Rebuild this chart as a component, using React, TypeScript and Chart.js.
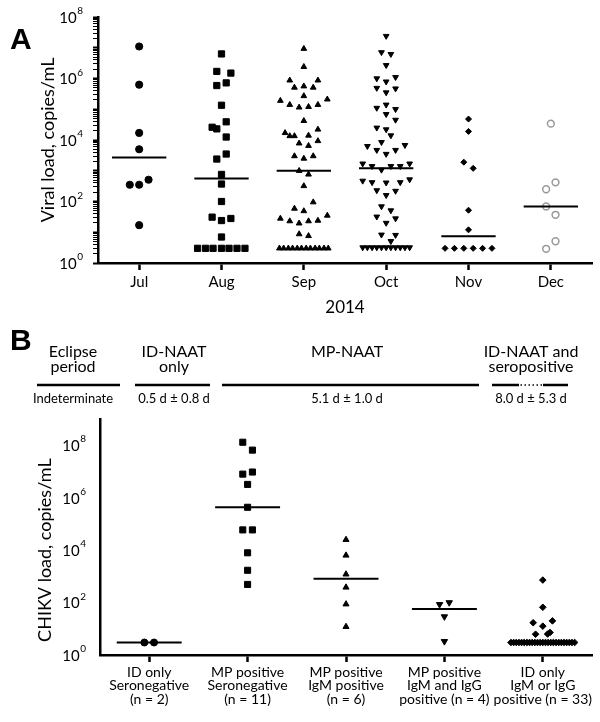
import React, { useEffect, useRef } from 'react';
import Chart from 'chart.js/auto';

// ---------------- Panel A: viral load by month (2014) ----------------
const monthLabels = ['Jul', 'Aug', 'Sep', 'Oct', 'Nov', 'Dec'];

const julValues = [1.1e7, 6.3e5, 1.7e4, 5.0e3, 350, 350, 510, 17];
const julSlots = [0, 0, 0, 0, -2, 0, 2, 0];

const augValues = [6.3e6, 1.7e6, 1.5e6, 5.9e5, 7.2e5, 1.35e5, 3.9e4, 2.6e4, 2.3e4, 1.25e4, 3.5e3, 2.4e3, 760, 370, 100, 31, 24, 28, 7,
  3, 3, 3, 3, 3, 3, 3];
const augSlots = [0, -1, 2, -1, 1, 0, 1, -2, -1, 1, 1, -1, 0, 0, 0, -2, 0, 2, 0,
  -5.1, -3.4, -1.8, 0, 1.6, 3.3, 5];

const sepValues = [9.3e6, 2.4e6, 8.7e5, 8.7e5, 5.1e5, 5.6e5, 5.1e5, 2.7e5, 1.9e5, 1.4e5, 1.15e5, 1.2e5, 1.4e5, 2.1e5,
  4.2e4, 1.7e4, 1.35e4, 1.35e4, 1.4e4, 2.2e4, 7.8e3, 6.5e3, 9.3e3, 3.0e3, 2.5e3, 3.0e3, 1.0e3, 760, 320,
  95, 59, 49, 28, 23, 19.5, 23, 24, 35, 8.7, 7.6,
  3, 3, 3, 3, 3, 3, 3, 3, 3, 3, 3, 3];
const sepSlots = [0, 0, -3, 3, -2, 0, 2, 0, -5, -3, -1, 1, 3, 5,
  0, -4, -3, -2, 1, 3, -1, 1, 3, -2, 0, 2, -1, 1, 0,
  2, -2, 0, -5, -3, -1, 1, 3, 5, -1, 1,
  -5.2, -4.3, -3.3, -2.4, -1.4, -0.5, 0.5, 1.4, 2.4, 3.3, 4.3, 5.2];

const octValues = [2.4e7, 7.1e6, 6.2e6, 2.7e6, 1.0e6, 7.9e5, 1.1e6, 4.9e5, 3.5e5, 4.7e5, 1.1e5, 1.4e5, 1.0e5, 6.9e4, 4.5e4,
  2.5e4, 2.2e4, 1.4e4, 6.3e3, 4.7e3, 8.5e3, 3.5e3, 4.7e3, 6.8e3,
  1.7e3, 1.4e3, 1.07e3, 1.4e3, 1.4e3, 1.7e3,
  470, 420, 410, 420, 520, 230, 220, 160, 69, 51, 32, 28, 20, 8.3, 8.1, 5.1,
  3.2, 3.2, 3.2, 3.2, 3.2, 3.2, 3.2, 3.2, 3.2, 3.2, 3.2];
const octSlots = [0, -1, 1, 0, -2, 0, 2, -2, 0, 2, -2, 0, 2, 0, 2,
  -2, 0, 1, -4, -2, -1, 0, 2, 4,
  -5, -3, -1, 1, 3, 5,
  -5, -3, 0, 3, 5, -2, 2, 0, -1, 1, -2, 2, 0, -1, 2, 1,
  -5, -4, -3, -2, -1, 0, 1, 2, 3, 4, 5];

const novValues = [4.8e4, 1.9e4, 1.9e3, 1.2e3, 52, 12, 3, 3, 3, 3, 3, 3];
const novSlots = [0, 0, -1, 1, 0, 0, -5, -3, -1, 1, 3, 5];

const decValues = [3.4e4, 420, 250, 69, 37, 5.1, 2.9];
const decSlots = [0, 1, -1, -1, 1, 1, -1];

const monthMedians = [2.7e3, 560, 1.0e3, 1.2e3, 7.4, 69];
const yLabelExponentsA = [0, 2, 4, 6, 8];

// ---------------- Panel B: CHIKV load by group ----------------
const groupLabels = [
  ['ID only', 'Seronegative', '(n = 2)'],
  ['MP positive', 'Seronegative', '(n = 11)'],
  ['MP positive', 'IgM positive', '(n = 6)'],
  ['MP positive', 'IgM and IgG', 'positive (n = 4)'],
  ['ID only', 'IgM or IgG', 'positive (n = 33)'],
];

const idSeronegValues = [3, 3];
const idSeronegSlots = [-1, 1];

const mpSeronegValues = [1.3e8, 6.5e7, 7.9e6, 9.5e6, 3.2e6, 4.3e5, 5.9e4, 5.9e4, 7.9e3, 1.7e3, 490];
const mpSeronegSlots = [-1, 1, -1, 1, 0, 0, -1, 1, 0, 0, 0];

const mpIgMValues = [2.5e4, 6.3e3, 1.2e3, 380, 87, 12];
const mpIgMSlots = [0, 0, 0, 0, 0, 0];

const mpIgMIgGValues = [85, 100, 29, 3.3];
const mpIgMIgGSlots = [-1, 1, 0, 0];

const idIgMIgGValues = [720, 66, 17, 20, 12.6, 6.2, 6.3, 7.2,
  3, 3, 3, 3, 3, 3, 3, 3, 3, 3, 3, 3, 3, 3, 3, 3, 3, 3, 3, 3, 3, 3, 3, 3, 3];
const idIgMIgGSlots = [0, 0, -2, 2, 0, -1.5, 1, 1.5,
  -6.6, -6.05, -5.5, -4.95, -4.4, -3.85, -3.3, -2.75, -2.2, -1.65, -1.1, -0.55, 0,
  0.55, 1.1, 1.65, 2.2, 2.75, 3.3, 3.85, 4.4, 4.95, 5.5, 6.05, 6.6];

const groupMedians = [3, 4.3e5, 810, 57, 3];
const yLabelExponentsB = [0, 2, 4, 6, 8];

const phaseTitles = [['Eclipse', 'period'], ['ID-NAAT', 'only'], ['MP-NAAT'], ['ID-NAAT and', 'seropositive']];
const phaseDurations = ['Indeterminate', '0.5 d ± 0.8 d', '5.1 d ± 1.0 d', '8.0 d ± 5.3 d'];

// ---------------- layout / style ----------------
const FONT = "Lato, 'DejaVu Sans', sans-serif";
const SLOT_A = 0.057;
const SLOT_B = 0.049;
const MEDIAN_HALF = 0.33;
const PHASE_LAYOUT = [
  { x0: 37, x1: 120, cx: 73, dots: null as null | number[] },
  { x0: 135, x1: 210, cx: 174, dots: null },
  { x0: 222, x1: 479, cx: 347, dots: null },
  { x0: 492, x1: 568, cx: 531, dots: [519, 543] },
];

const isDecade = (v: number) => {
  const l = Math.log10(v);
  return Math.abs(l - Math.round(l)) < 1e-6;
};

type Style = { shape: string; radius: number; rotation?: number; fill: string; stroke: string; lw: number };

function pointSet(values: number[], slots: number[], index: number, unit: number, s: Style) {
  return {
    data: values.map((v, j) => ({ x: index + slots[j] * unit, y: v })),
    showLine: false,
    pointStyle: s.shape,
    pointRotation: s.rotation || 0,
    pointRadius: s.radius,
    pointHoverRadius: s.radius,
    pointBackgroundColor: s.fill,
    pointBorderColor: s.stroke,
    pointBorderWidth: s.lw,
    backgroundColor: s.fill,
    borderColor: s.stroke,
  };
}

function medianSet(m: number, index: number) {
  return {
    data: [{ x: index - MEDIAN_HALF, y: m }, { x: index + MEDIAN_HALF, y: m }],
    showLine: true,
    borderColor: '#000',
    backgroundColor: '#000',
    borderWidth: 2,
    pointRadius: 0,
    pointHoverRadius: 0,
    fill: false,
  };
}

const letterPlugin = (text: string, x: number, y: number) => ({
  id: 'letter' + text,
  afterDraw(chart: any) {
    const ctx = chart.ctx;
    ctx.save();
    ctx.fillStyle = '#000';
    ctx.font = "bold 30px 'Liberation Sans', Arial, sans-serif";
    ctx.textAlign = 'left';
    ctx.textBaseline = 'alphabetic';
    ctx.fillText(text, x, y);
    ctx.restore();
  },
});

// power-of-ten tick labels ("10" with a raised exponent), placed by the y scale
const powLabelPlugin = (exps: number[], gap: number) => ({
  id: 'powLabels',
  afterDraw(chart: any) {
    const s = chart.scales.y;
    const ctx = chart.ctx;
    ctx.save();
    ctx.fillStyle = '#000';
    ctx.textBaseline = 'middle';
    ctx.textAlign = 'right';
    const xr = s.right - gap;
    exps.forEach((e) => {
      const y = s.getPixelForValue(Math.pow(10, e));
      ctx.font = `10px ${FONT}`;
      const ew = ctx.measureText(String(e)).width;
      ctx.fillText(String(e), xr, y - 6);
      ctx.font = `15px ${FONT}`;
      ctx.fillText('10', xr - ew - 0.5, y + 1);
    });
    ctx.restore();
  },
});

// y-axis title centred on the labelled 10^0..10^8 span
const yTitlePlugin = (text: string, x: number, lo: number, hi: number) => ({
  id: 'yTitle',
  afterDraw(chart: any) {
    const s = chart.scales.y;
    const ctx = chart.ctx;
    const yc = (s.getPixelForValue(lo) + s.getPixelForValue(hi)) / 2;
    ctx.save();
    ctx.translate(x, yc);
    ctx.rotate(-Math.PI / 2);
    ctx.fillStyle = '#000';
    ctx.font = `18px ${FONT}`;
    ctx.textAlign = 'center';
    ctx.textBaseline = 'middle';
    ctx.fillText(text, 0, 0);
    ctx.restore();
  },
});

const headerPlugin = {
  id: 'phaseHeader',
  afterDraw(chart: any) {
    const ctx = chart.ctx;
    ctx.save();
    ctx.fillStyle = '#000';
    ctx.strokeStyle = '#000';
    ctx.textAlign = 'center';
    ctx.textBaseline = 'middle';
    phaseTitles.forEach((lines, i) => {
      const L = PHASE_LAYOUT[i];
      ctx.font = `16px ${FONT}`;
      lines.forEach((t, k) => ctx.fillText(t, L.cx, 32 + k * 15));
      ctx.font = `13px ${FONT}`;
      ctx.fillText(phaseDurations[i], L.cx, 79);
      ctx.lineWidth = 2.5;
      ctx.setLineDash([]);
      if (L.dots) {
        ctx.beginPath();
        ctx.moveTo(L.x0, 65); ctx.lineTo(L.dots[0], 65);
        ctx.moveTo(L.dots[1], 65); ctx.lineTo(L.x1, 65);
        ctx.stroke();
        ctx.lineWidth = 1.5;
        ctx.setLineDash([1.5, 2.5]);
        ctx.beginPath();
        ctx.moveTo(L.dots[0] + 1.5, 65); ctx.lineTo(L.dots[1], 65);
        ctx.stroke();
      } else {
        ctx.beginPath();
        ctx.moveTo(L.x0, 65); ctx.lineTo(L.x1, 65);
        ctx.stroke();
      }
    });
    ctx.restore();
  },
};

const black: Style = { shape: 'circle', radius: 3.5, fill: '#000', stroke: '#000', lw: 1 };

function buildA() {
  const sets: any[] = [];
  monthMedians.forEach((m, i) => sets.push(medianSet(m, i)));
  sets.push(pointSet(julValues, julSlots, 0, SLOT_A, { ...black, shape: 'circle', radius: 3.6 }));
  sets.push(pointSet(augValues, augSlots, 1, SLOT_A, { ...black, shape: 'rect', radius: 4.4 }));
  sets.push(pointSet(sepValues, sepSlots, 2, SLOT_A, { ...black, shape: 'triangle', radius: 3.3 }));
  sets.push(pointSet(octValues, octSlots, 3, SLOT_A, { ...black, shape: 'triangle', radius: 3.3, rotation: 180 }));
  sets.push(pointSet(novValues, novSlots, 4, SLOT_A, { ...black, shape: 'rectRot', radius: 3 }));
  sets.push(pointSet(decValues, decSlots, 5, SLOT_A, { shape: 'circle', radius: 3.4, fill: '#fff', stroke: '#999', lw: 1.5 }));
  return sets;
}

function buildB() {
  const sets: any[] = [];
  groupMedians.forEach((m, i) => sets.push(medianSet(m, i)));
  sets.push(pointSet(idSeronegValues, idSeronegSlots, 0, SLOT_B, { ...black, shape: 'circle', radius: 3.5 }));
  sets.push(pointSet(mpSeronegValues, mpSeronegSlots, 1, SLOT_B, { ...black, shape: 'rect', radius: 4.3 }));
  sets.push(pointSet(mpIgMValues, mpIgMSlots, 2, SLOT_B, { ...black, shape: 'triangle', radius: 3.5 }));
  sets.push(pointSet(mpIgMIgGValues, mpIgMIgGSlots, 3, SLOT_B, { ...black, shape: 'triangle', radius: 3.7, rotation: 180 }));
  sets.push(pointSet(idIgMIgGValues, idIgMIgGSlots, 4, SLOT_B, { ...black, shape: 'rectRot', radius: 3.3 }));
  return sets;
}

const axisBorder = { display: true, color: '#000', width: 2.5 };

export default function App() {
  const refA = useRef<HTMLCanvasElement>(null);
  const refB = useRef<HTMLCanvasElement>(null);

  useEffect(() => {
    const chartA = new Chart(refA.current as HTMLCanvasElement, {
      type: 'scatter',
      data: { datasets: buildA() },
      plugins: [letterPlugin('A', 10, 49), powLabelPlugin(yLabelExponentsA, 15)],
      options: {
        responsive: false,
        animation: false,
        events: [],
        layout: { padding: { left: 0, right: 8, top: 17, bottom: 0 } },
        plugins: { legend: { display: false }, tooltip: { enabled: false }, colors: { enabled: false } } as any,
        scales: {
          x: {
            type: 'linear',
            min: -0.5,
            max: 5.5,
            afterBuildTicks: (s: any) => { s.ticks = monthLabels.map((_, i) => ({ value: i })); },
            afterFit: (s: any) => { s.height = 57; },
            grid: { display: true, drawOnChartArea: false, drawTicks: true, tickLength: 7, tickWidth: 2.5, tickColor: '#000' },
            border: axisBorder,
            ticks: {
              autoSkip: false, maxRotation: 0, padding: 3, color: '#000',
              font: { family: FONT, size: 15 },
              callback: (v: any) => monthLabels[Math.round(Number(v))] ?? '',
            },
            title: { display: true, text: '2014', color: '#000', font: { family: FONT, size: 17 }, padding: { top: 0, bottom: 2 } },
          },
          y: {
            type: 'logarithmic',
            min: 1,
            max: 1e8,
            afterBuildTicks: (s: any) => {
              const t: any[] = [];
              for (let e = 0; e < 8; e++) for (let m = 1; m <= 9; m++) t.push({ value: m * Math.pow(10, e) });
              t.push({ value: 1e8 });
              s.ticks = t;
            },
            afterFit: (s: any) => { s.width = 98; },
            grid: {
              display: true, drawOnChartArea: false, drawTicks: true, tickLength: 5, tickColor: '#000',
              tickWidth: (c: any) => (c.tick && isDecade(c.tick.value) ? 2 : 1),
            },
            border: axisBorder,
            ticks: { display: false, autoSkip: false },
            title: { display: true, text: 'Viral load, copies/mL', color: '#000', font: { family: FONT, size: 18 }, padding: { top: 37, bottom: 0 } },
          },
        },
      } as any,
    } as any);

    const chartB = new Chart(refB.current as HTMLCanvasElement, {
      type: 'scatter',
      data: { datasets: buildB() },
      plugins: [letterPlugin('B', 10, 30), headerPlugin, powLabelPlugin(yLabelExponentsB, 14),
        yTitlePlugin('CHIKV load, copies/mL', 45, 1, 1e8)],
      options: {
        responsive: false,
        animation: false,
        events: [],
        layout: { padding: { left: 0, right: 8, top: 99, bottom: 0 } },
        plugins: { legend: { display: false }, tooltip: { enabled: false }, colors: { enabled: false } } as any,
        scales: {
          x: {
            type: 'linear',
            min: -0.5,
            max: 4.5,
            afterBuildTicks: (s: any) => { s.ticks = groupLabels.map((_, i) => ({ value: i })); },
            afterFit: (s: any) => { s.height = 67; },
            grid: { display: true, drawOnChartArea: false, drawTicks: true, tickLength: 7, tickWidth: 2.5, tickColor: '#000' },
            border: axisBorder,
            ticks: {
              autoSkip: false, maxRotation: 0, padding: 4, color: '#000',
              font: { family: FONT, size: 14, lineHeight: 0.95 },
              callback: (v: any) => groupLabels[Math.round(Number(v))] ?? '',
            },
          },
          y: {
            type: 'logarithmic',
            min: 1,
            max: 1e9,
            afterBuildTicks: (s: any) => { s.ticks = yLabelExponentsB.map((e) => ({ value: Math.pow(10, e) })); },
            afterFit: (s: any) => { s.width = 100; },
            grid: { display: true, drawOnChartArea: false, drawTicks: false },
            border: axisBorder,
            ticks: { display: false, autoSkip: false },
            title: { display: false },
          },
        },
      } as any,
    } as any);

    return () => {
      chartA.destroy();
      chartB.destroy();
    };
  }, []);

  return (
    <div style={{ position: 'absolute', left: 0, top: 0, width: 600, height: 722, background: '#fff' }}>
      <canvas ref={refA} width={600} height={320} style={{ position: 'absolute', left: 0, top: 0, width: 600, height: 320 }} />
      <canvas ref={refB} width={600} height={402} style={{ position: 'absolute', left: 0, top: 320, width: 600, height: 402 }} />
    </div>
  );
}
